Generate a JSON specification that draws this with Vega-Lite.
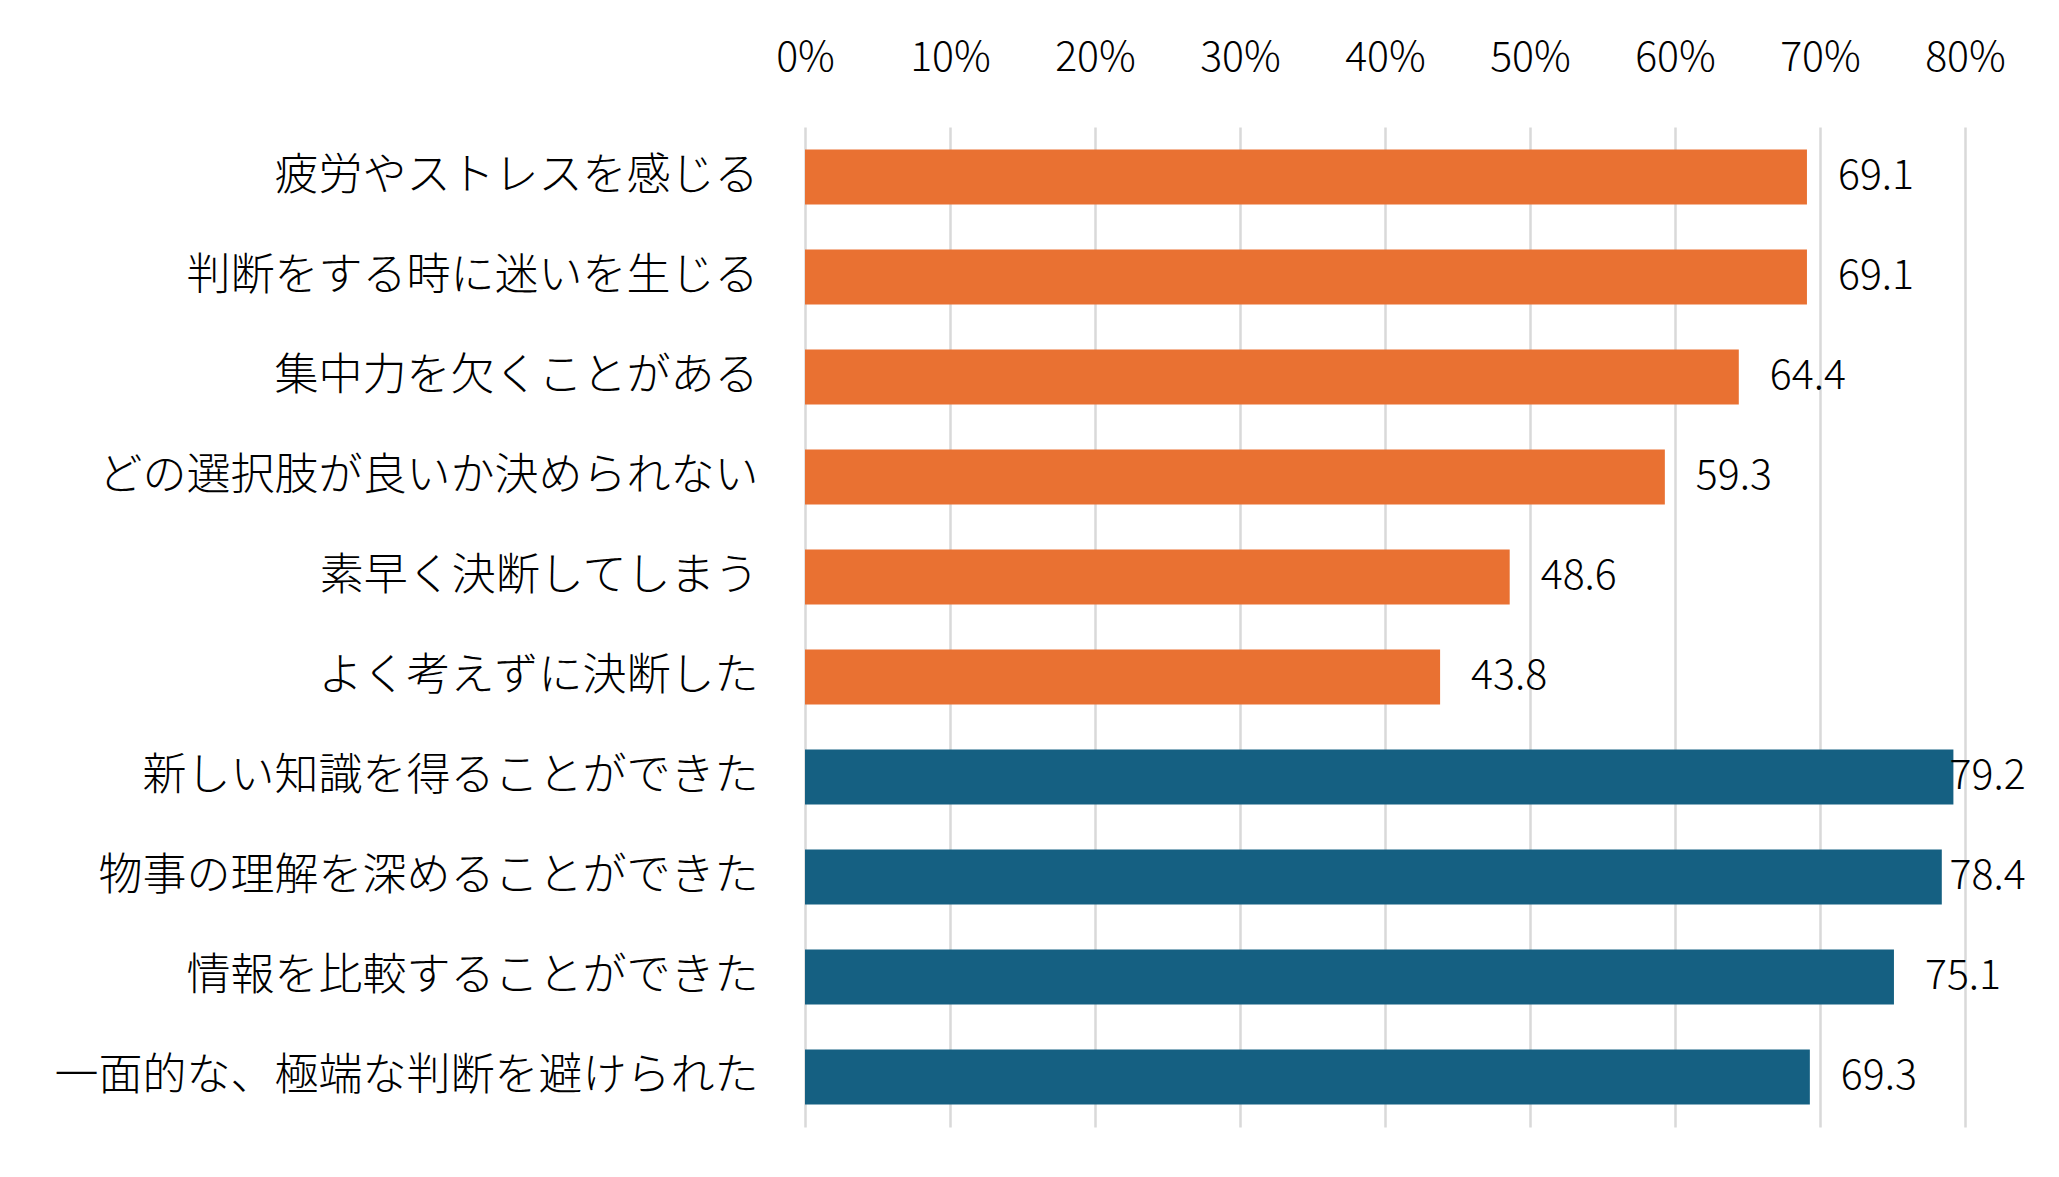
{
  "$schema": "https://vega.github.io/schema/vega-lite/v6.json",
  "autosize": {"type": "none"},
  "width": 1160,
  "height": 1000,
  "padding": {"left": 805, "top": 127, "right": 94, "bottom": 50},
  "background": "white",
  "config": {
    "view": {"stroke": null},
    "font": "Noto Sans CJK JP"
  },
  "data": {
    "values": [
      {"item": "疲労やストレスを感じる", "pct": 69.1, "group": "負"},
      {"item": "判断をする時に迷いを生じる", "pct": 69.1, "group": "負"},
      {"item": "集中力を欠くことがある", "pct": 64.4, "group": "負"},
      {"item": "どの選択肢が良いか決められない", "pct": 59.3, "group": "負"},
      {"item": "素早く決断してしまう", "pct": 48.6, "group": "負"},
      {"item": "よく考えずに決断した", "pct": 43.8, "group": "負"},
      {"item": "新しい知識を得ることができた", "pct": 79.2, "group": "正"},
      {"item": "物事の理解を深めることができた", "pct": 78.4, "group": "正"},
      {"item": "情報を比較することができた", "pct": 75.1, "group": "正"},
      {"item": "一面的な、極端な判断を避けられた", "pct": 69.3, "group": "正"}
    ]
  },
  "encoding": {
    "y": {
      "field": "item",
      "type": "nominal",
      "sort": null,
      "scale": {"paddingInner": 0.45, "paddingOuter": 0.225},
      "axis": {
        "title": null,
        "ticks": false,
        "domain": false,
        "labelFontSize": 44,
        "labelFontWeight": 300,
        "labelColor": "#000000",
        "labelPadding": 47,
        "labelLimit": 1000
      }
    }
  },
  "layer": [
    {
      "mark": {"type": "bar"},
      "encoding": {
        "x": {
          "field": "pct",
          "type": "quantitative",
          "scale": {"domain": [0, 80], "nice": false},
          "axis": {
            "orient": "top",
            "title": null,
            "values": [0, 10, 20, 30, 40, 50, 60, 70, 80],
            "labelExpr": "datum.value + '%'",
            "labelFontSize": 41,
            "labelFontWeight": 300,
            "labelColor": "#000000",
            "labelPadding": 48,
            "ticks": false,
            "domain": false,
            "grid": true,
            "gridColor": "#D9D9D9",
            "gridWidth": 2.5,
            "labelFlush": false
          }
        },
        "color": {
          "field": "group",
          "type": "nominal",
          "scale": {"domain": ["負", "正"], "range": ["#E97132", "#156082"]},
          "legend": null
        }
      }
    },
    {
      "mark": {"type": "text", "align": "left", "baseline": "middle", "dx": 31, "fontSize": 41, "fontWeight": 300, "color": "#000000"},
      "encoding": {
        "x": {
          "field": "pct",
          "type": "quantitative",
          "scale": {"domain": [0, 76.8], "range": [0, 1113.6], "clamp": true, "nice": false},
          "axis": null
        },
        "text": {"field": "pct", "type": "quantitative", "format": ".1f"}
      }
    }
  ],
  "resolve": {"scale": {"x": "independent"}}
}
